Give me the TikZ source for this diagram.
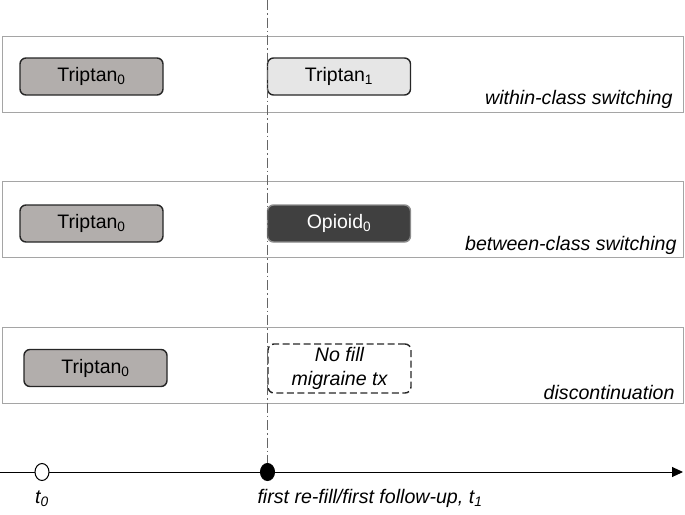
\documentclass[tikz,border=0pt]{standalone}
\usepackage{fontspec}
\setmainfont{Liberation Sans}
\usetikzlibrary{arrows.meta,positioning,shapes.geometric}

\definecolor{tripgray}{RGB}{178,174,172}
\definecolor{lightgray}{RGB}{230,230,230}
\definecolor{opiodark}{RGB}{64,64,64}
\definecolor{pangray}{RGB}{165,165,165}

\begin{document}
\begin{tikzpicture}[
  x=1pt,y=1pt,
  font=\fontsize{19.5}{23}\selectfont,
  bx/.style ={draw=black!85,rounded corners=6pt,align=center,inner sep=2pt,line width=1.4pt,
              minimum width=143pt,minimum height=37pt},
  pan/.style={draw=pangray,line width=1pt,minimum width=681pt,minimum height=76pt,anchor=north west},
  it/.style ={font=\fontsize{19.6}{23.5}\selectfont\itshape},
  tag/.style={it,anchor=base east},
  dot/.style={ellipse,draw,line width=1pt,minimum width=14pt,minimum height=17pt,inner sep=0pt},
  ar/.style ={-{Triangle[length=11pt,width=10pt]},line width=1pt}
]
\useasboundingbox (0,0) rectangle (685,-514);

% ======== panels
\node[pan] (p1) at (2,-36)  {};
\node[pan] (p2) at (2,-181) {};
\node[pan] (p3) at (2,-327) {};

% ======== row 1
\node[bx,fill=tripgray]  (tr0a) at (91.5,-76.5) {Triptan\textsubscript{0}};
\node[bx,fill=lightgray] (tr1)  at (339,-76.5)  {Triptan\textsubscript{1}};
\node[tag] (lab1) at (676,-104) {within-class switching};

% ======== row 2
\node[bx,fill=tripgray]  (tr0b) at (91.5,-223.5) {Triptan\textsubscript{0}};
\node[bx,fill=opiodark,draw=black!45,text=white] (op0) at (339,-223.5) {Opioid\textsubscript{0}};
\node[tag] (lab2) at (680,-250) {between-class switching};

% ======== row 3
\node[bx,fill=tripgray] (tr0c) at (95.5,-368) {Triptan\textsubscript{0}};
\node[bx,it,dashed,dash pattern=on 7pt off 3.5pt,minimum height=49pt]
  (nofill) at (339.5,-368.5) {No fill\\migraine tx};
\node[tag] (lab3) at (678,-399) {discontinuation};

% ======== timeline
\coordinate (tl0) at (0,-472);
\coordinate (tl1) at (683,-472);
\draw[ar] (tl0) -- (tl1);
\node[dot,fill=white] (t0dot) at (42,-472) {};
\node[dot,fill=black] (t1dot) at (267.5,-472) {};
\node[it,anchor=base] (t0lab) at (42,-503) {t\textsubscript{0}};
\node[it,anchor=base west] (t1lab) at (254,-503)
  {first re-fill/first follow-up, t\textsubscript{1}};

% ======== t1 marker line
\coordinate (vtop) at (267.5,0);
\draw[black!60,line width=1pt,dash pattern=on 10pt off 3pt on 1.5pt off 3pt] (vtop) -- (t1dot.north);
\end{tikzpicture}
\end{document}
